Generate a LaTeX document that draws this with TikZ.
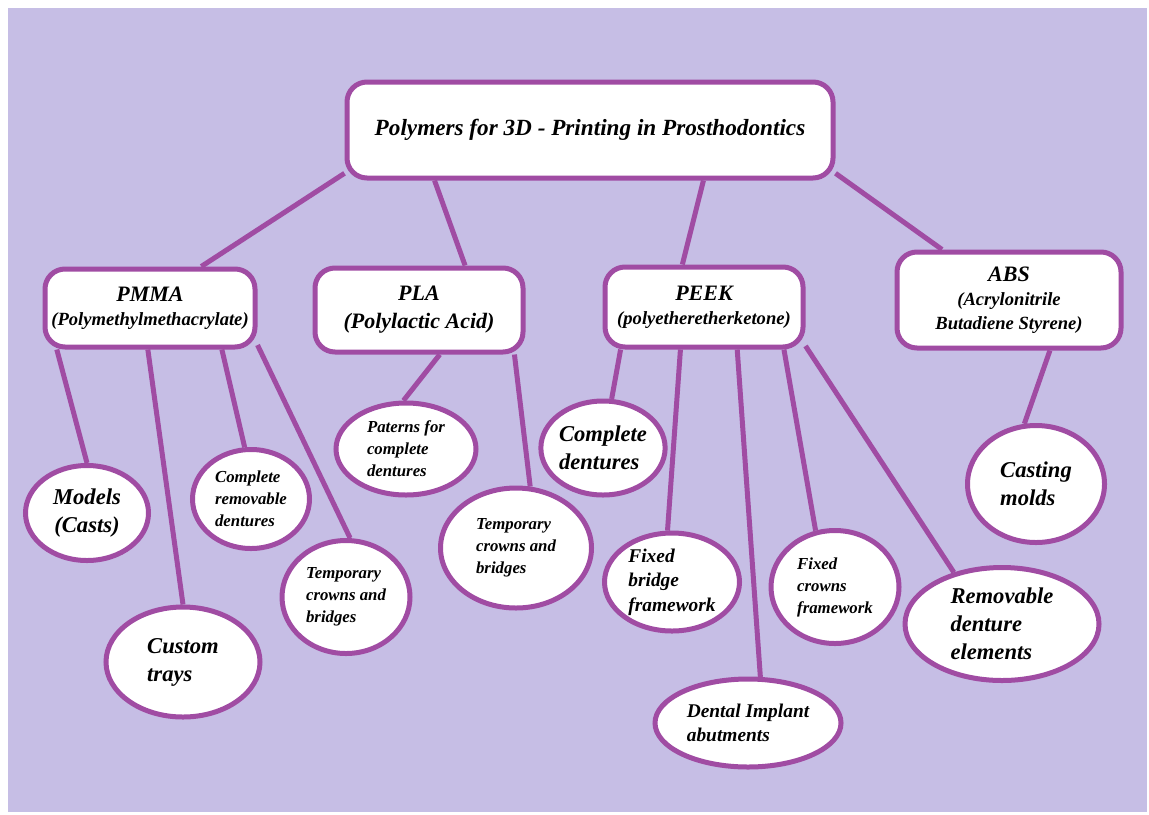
\documentclass[tikz,border=0pt]{standalone}
\usepackage{fontspec}
\setmainfont{Liberation Serif}
\usetikzlibrary{shapes.geometric}
\definecolor{lavender}{HTML}{C6BEE5}
\definecolor{plum}{HTML}{A04CA3}
\newcommand{\headtxt}{\fontsize{11}{13}\selectfont}
\newcommand{\bigtxt}{\fontsize{11.3}{14}\selectfont}
\newcommand{\midtxt}{\fontsize{9.7}{12.2}\selectfont}
\newcommand{\smalltxt}{\fontsize{8.4}{11}\selectfont}
\tikzset{
  box/.style={draw=plum, line width=2.5pt, fill=white, rounded corners=10pt,
    inner sep=0pt, align=center, font=\bfseries\itshape\fontsize{9.3}{12}\selectfont},
  leaf/.style={ellipse, draw=plum, line width=2.5pt, fill=white,
    inner sep=0pt, align=left, font=\bfseries\itshape\bigtxt},
  link/.style={draw=plum, line width=2.5pt},
}
\begin{document}
\begin{tikzpicture}[x=0.5pt,y=-0.5pt]
   \useasboundingbox (0,0) rectangle (1149,814);
   \fill[lavender] (8,8) rectangle (1147,812);
   % title and materials
   \node[box, minimum width=243pt, minimum height=48pt, font=\bfseries\itshape\fontsize{11.6}{14}\selectfont] (poly) at (590,130) {Polymers for 3D - Printing in Prosthodontics};
   \node[box, minimum width=105pt, minimum height=39pt] (pmma) at (150,308) {{\headtxt PMMA}\\(Polymethylmethacrylate)};
   \node[box, minimum width=104pt, minimum height=42pt, font=\bfseries\itshape\fontsize{11}{14}\selectfont] (pla) at (419,310) {PLA\\(Polylactic Acid)};
   \node[box, minimum width=99pt, minimum height=40pt] (peek) at (704,307) {{\headtxt PEEK}\\(polyetheretherketone)};
   \node[box, minimum width=112pt, minimum height=48pt] (abs) at (1009,300) {{\headtxt ABS}\\(Acrylonitrile\\ Butadiene Styrene)};
   % uses
   \node[leaf, minimum width=61.5pt, minimum height=47.5pt, align=center] (models) at (87,513) {Models\\(Casts)};
   \node[leaf, minimum width=77pt, minimum height=55pt] (trays) at (183,662) {Custom\\trays};
   \node[leaf, minimum width=58.5pt, minimum height=49.5pt, font=\bfseries\itshape\smalltxt] (remov) at (251,499) {Complete\\removable\\dentures};
   \node[leaf, minimum width=64pt, minimum height=56.5pt, font=\bfseries\itshape\smalltxt] (tempa) at (346,597) {Temporary\\crowns and\\bridges};
   \node[leaf, minimum width=70pt, minimum height=46pt, font=\bfseries\itshape\smalltxt] (paterns) at (406,449) {Paterns for\\complete\\dentures};
   \node[leaf, minimum width=75.5pt, minimum height=60pt, font=\bfseries\itshape\smalltxt] (tempb) at (516,548) {Temporary\\crowns and\\bridges};
   \node[leaf, minimum width=58pt, minimum height=47pt] (dentures) at (603,448) {Complete\\dentures};
   \node[leaf, minimum width=67.5pt, minimum height=49pt, font=\bfseries\itshape\midtxt] (bridge) at (672,582) {Fixed\\bridge\\framework};
   \node[leaf, minimum width=93pt, minimum height=44pt, font=\bfseries\itshape\midtxt] (implant) at (748,723) {Dental Implant\\abutments};
   \node[leaf, minimum width=64pt, minimum height=56.5pt, font=\bfseries\itshape\smalltxt] (crowns) at (835,587) {Fixed\\crowns\\framework};
   \node[leaf, minimum width=97pt, minimum height=56.5pt] (elements) at (1002,624) {Removable\\denture\\elements};
   \node[leaf, minimum width=68.5pt, minimum height=58.5pt] (molds) at (1036,484) {Casting\\molds};
   % links
   \draw[link] (poly.190) -- (pmma.39);
   \draw[link] (poly.198) -- (pla.44);
   \draw[link] (poly.336) -- (peek.117);
   \draw[link] (poly.350) -- (abs.143);
   \draw[link] (pmma.204) -- (models.90);
   \draw[link] (pmma.267) -- (trays.90);
   \draw[link] (pmma.330) -- (remov.97);
   \draw[link] (pmma.341) -- (tempa.86);
   \draw[link] (pla.295) -- (paterns.93);
   \draw[link] (pla.335) -- (tempb.77);
   \draw[link] (peek.207) -- (dentures.80);
   \draw[link] (peek.241) -- (bridge.95);
   \draw[link] (peek.308) -- (implant.75);
   \draw[link] (peek.332) -- (crowns.109);
   \draw[link] (peek.339) -- (elements.133);
   \draw[link] (abs.309) -- (molds.101);
\end{tikzpicture}
\end{document}
